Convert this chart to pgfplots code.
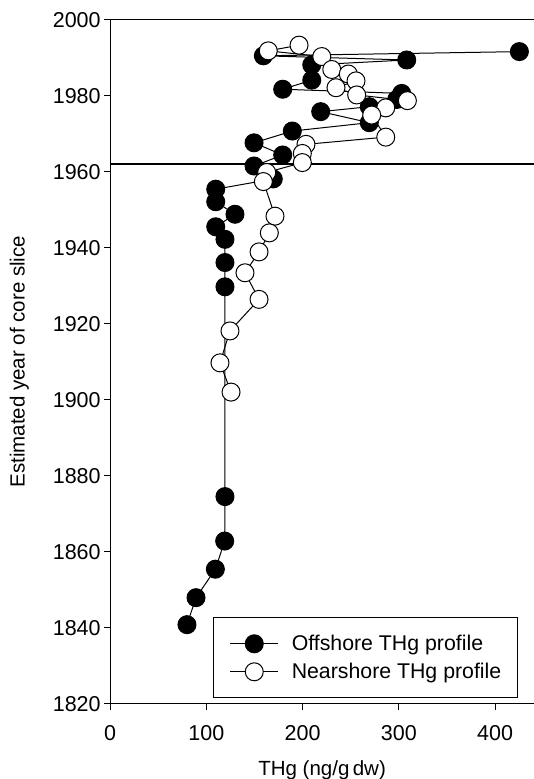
\documentclass[border=0pt]{standalone}
\usepackage{fontspec}
\setmainfont{Liberation Sans}
\usepackage{pgfplots}
\pgfplotsset{compat=1.18}

\newcommand{\figfont}{\fontsize{20.5}{24}\selectfont}
\newcommand{\tickfont}{\fontsize{21.5}{24}\selectfont}
\newcommand{\legfont}{\fontsize{21.3}{24}\selectfont}

\begin{document}
\begin{tikzpicture}
\begin{axis}[
    name=ax,
    scale only axis,
    width=423.8pt, height=684pt,
    xmin=0, xmax=440.5,
    ymin=1820, ymax=2000,
    xtick={0,100,...,400},
    ytick={1820,1840,...,2000},
    axis x line=box,
    axis y line=left,
    axis line style={-, line width=1.1pt},
    xtick pos=left,
    tick align=outside,
    major tick length=6pt,
    tick style={line width=1pt, black},
    /pgf/number format/assume math mode=true,
    /pgf/number format/1000 sep={},
    tick label style={font=\tickfont},
    xticklabel shift=12pt,
    label style={font=\figfont},
    xlabel={THg (ng/g\,dw)},
    ylabel={Estimated year of core slice},
    xlabel style={at={(axis description cs:0.5,0)}, anchor=north, yshift=-53pt},
    ylabel style={at={(axis description cs:-0.2147,0.5)}, anchor=center},
    clip=false,
    legend style={font=\legfont, at={(0.9618,0.0079)}, anchor=south east,
        draw=black, line width=1pt, inner xsep=16pt, inner ysep=17pt,
        row sep=10pt, column sep=13pt,
        nodes={inner sep=0pt}},
    legend cell align=left,
    legend image code/.code={%
        \draw[mark repeat=2,mark phase=2] plot coordinates {(0pt,0pt) (24pt,0pt) (48pt,0pt)};},
]
% 1962 horizon
\addplot[forget plot, black, line width=1.3pt] coordinates {(0,1962) (440.5,1962)};

% offshore
\addplot[black, line width=1pt, mark=*, mark size=9pt,
    mark options={fill=black, draw=black}] coordinates {
(425.3,1991.6) (159.2,1990.5) (308.2,1989.4) (209.5,1988.1) (209.5,1984.1)
(179.3,1981.7) (303.0,1980.6) (297.8,1979.0) (269.3,1977.1) (218.8,1975.8)
(269.3,1972.9) (189.3,1970.7) (149.5,1967.6) (179.3,1964.4) (149.5,1961.5)
(169.5,1958.1) (109.7,1955.4) (109.7,1952.1) (129.7,1948.8) (109.7,1945.5)
(119.3,1942.2) (119.3,1936.1) (119.3,1929.7) (119.3,1874.5) (119.0,1862.8)
(109.3,1855.4) (89.2,1847.9) (79.8,1840.8)
};
\addlegendentry{Offshore THg profile}

% nearshore
\addplot[black, line width=1pt, mark=*, mark size=9pt,
    mark options={fill=white, draw=black}] coordinates {
(196.3,1993.3) (164.3,1991.8) (219.9,1990.3) (230.3,1986.9) (247.5,1985.7)
(255.5,1983.9) (234.7,1982.1) (256.2,1980.2) (308.9,1978.7) (286.4,1976.8)
(271.8,1974.9) (286.4,1969.1) (203.5,1967.2) (199.7,1964.8) (199.7,1962.4)
(162.7,1959.8) (159.2,1957.4) (171.3,1948.3) (165.4,1943.9) (154.7,1938.9)
(140.1,1933.4) (154.7,1926.4) (124.5,1918.1) (114.1,1909.7) (125.6,1902.0)
};
\addlegendentry{Nearshore THg profile}
\end{axis}
\pgfresetboundingbox
\path ([shift={(-110.2pt,-75.3pt)}]ax.south west) rectangle ([shift={(0pt,19.7pt)}]ax.north east);
\end{tikzpicture}
\end{document}
